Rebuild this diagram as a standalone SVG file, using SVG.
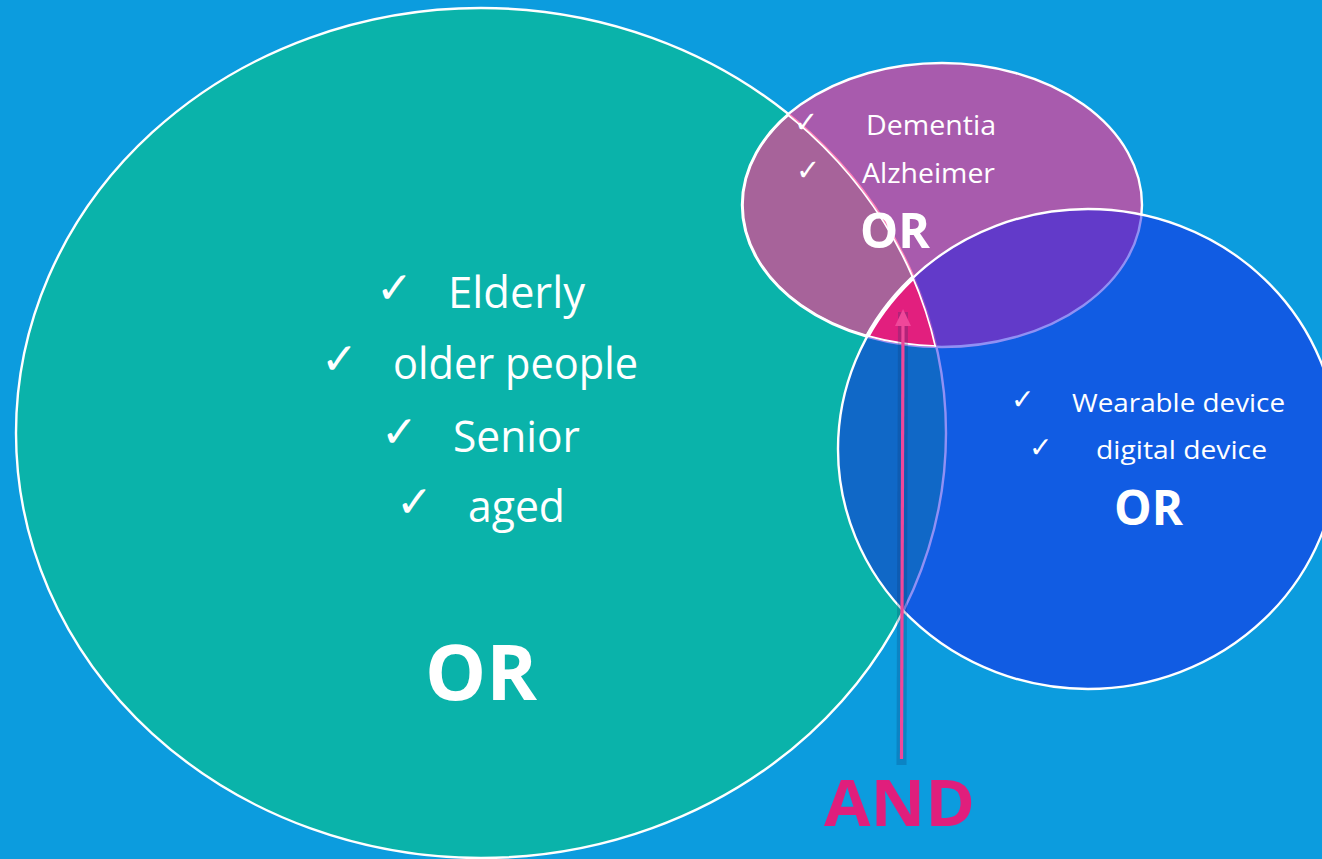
<svg xmlns="http://www.w3.org/2000/svg" width="1322" height="859" viewBox="0 0 1322 859">
<style>
.ol{stroke:#FFFFFF;stroke-width:2.4}
.t{font-family:"Open Sans","Liberation Sans",sans-serif;fill:#FFFFFF}
.ck{font-family:"DejaVu Sans",sans-serif;font-weight:bold;fill:#FFFFFF}
.or{font-family:"Open Sans","Liberation Sans",sans-serif;font-weight:bold;fill:#FFFFFF}
</style>
<defs>
<clipPath id="cT"><ellipse cx="481" cy="433" rx="465" ry="425"/></clipPath>
<clipPath id="cP"><ellipse cx="942" cy="205" rx="200" ry="142"/></clipPath>
<marker id="ah" markerUnits="userSpaceOnUse" markerWidth="17" markerHeight="16" refX="2" refY="8" orient="auto" viewBox="0 0 17 16">
<path d="M0,0 L17,8 L0,16 Z" fill="#F0479A"/>
</marker>
</defs>
<rect x="0" y="0" width="1322" height="859" fill="#0C9CDE"/>
<g id="node-elderly">
<ellipse cx="481" cy="433" rx="465" ry="425" fill="#0AB3AA" class="ol"/>
<text class="ck" x="376" y="303" font-size="44">✓</text>
<text class="t" x="448" y="308" font-size="43" textLength="137" lengthAdjust="spacingAndGlyphs">Elderly</text>
<text class="ck" x="321" y="374" font-size="44">✓</text>
<text class="t" x="393" y="379" font-size="43" textLength="245" lengthAdjust="spacingAndGlyphs">older people</text>
<text class="ck" x="381" y="447" font-size="44">✓</text>
<text class="t" x="453" y="452" font-size="43" textLength="127" lengthAdjust="spacingAndGlyphs">Senior</text>
<text class="ck" x="396" y="517" font-size="44">✓</text>
<text class="t" x="468" y="522" font-size="43" textLength="97" lengthAdjust="spacingAndGlyphs">aged</text>
<text class="or" x="425" y="700" font-size="77" textLength="112" lengthAdjust="spacingAndGlyphs">OR</text>
</g>
<g id="node-dementia">
<ellipse cx="942" cy="205" rx="200" ry="142" fill="#FC3992" fill-opacity="0.65" class="ol"/>
<text class="ck" x="794" y="132" font-size="29">✓</text>
<text class="t" x="866" y="135" font-size="28" textLength="130" lengthAdjust="spacingAndGlyphs">Dementia</text>
<text class="ck" x="796" y="180" font-size="29">✓</text>
<text class="t" x="862" y="183" font-size="28" textLength="133" lengthAdjust="spacingAndGlyphs">Alzheimer</text>
<text class="or" x="860" y="248" font-size="49" textLength="70" lengthAdjust="spacingAndGlyphs">OR</text>
</g>
<g id="node-device">
<ellipse cx="1088" cy="449" rx="250" ry="240" fill="#1816E9" fill-opacity="0.48" class="ol"/>
<text class="ck" x="1011" y="409" font-size="28">✓</text>
<text class="t" x="1072" y="412" font-size="26" textLength="213" lengthAdjust="spacingAndGlyphs">Wearable device</text>
<text class="ck" x="1029" y="457" font-size="28">✓</text>
<text class="t" x="1096" y="459" font-size="26" textLength="171" lengthAdjust="spacingAndGlyphs">digital device</text>
<text class="or" x="1114" y="525" font-size="48" textLength="69" lengthAdjust="spacingAndGlyphs">OR</text>
</g>
<g id="node-intersection" clip-path="url(#cT)">
<g clip-path="url(#cP)">
<ellipse cx="1088" cy="449" rx="250" ry="240" fill="#E21F7E"/>
<ellipse cx="1088" cy="449" rx="250" ry="240" fill="none" stroke="#FFFFFF" stroke-width="4.4"/>
<ellipse cx="942" cy="205" rx="200" ry="142" fill="none" stroke="#FFFFFF" stroke-width="3.6"/>
<ellipse cx="481" cy="433" rx="465" ry="425" fill="none" stroke="#FFFFFF" stroke-width="3.6"/>
</g>
</g>
<g id="connectors">
<line x1="901.5" y1="765" x2="903" y2="312" stroke="#08306A" stroke-opacity="0.22" stroke-width="10"/>
<line x1="901.5" y1="759" x2="903" y2="324" stroke="#F0479A" stroke-width="3.2" marker-end="url(#ah)"/>
</g>
<g id="label-and">
<text x="824" y="826" font-family="Open Sans, Liberation Sans, sans-serif" font-weight="bold" font-size="64" fill="#E01E7C" textLength="151" lengthAdjust="spacingAndGlyphs">AND</text>
</g>
</svg>
